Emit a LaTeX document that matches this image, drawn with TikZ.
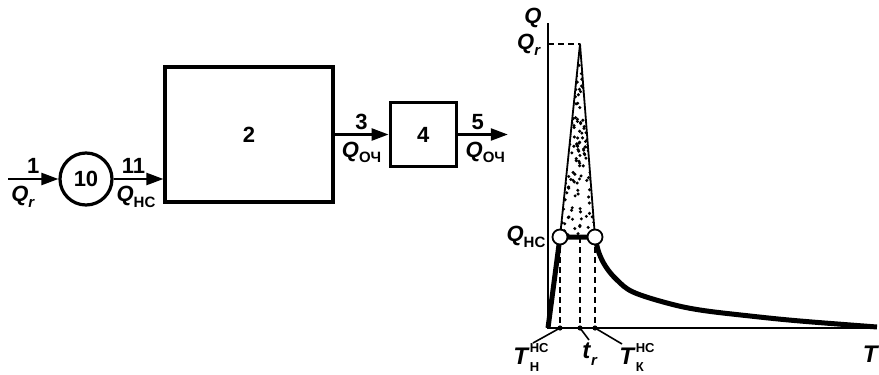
\documentclass[tikz,border=0pt]{standalone}
\usepackage{fontspec}
\setmainfont{Liberation Sans}
\usetikzlibrary{positioning,arrows.meta}
\newcommand{\lsub}[2]{#1\raisebox{-0.5ex}{\fontsize{7.5}{8}\selectfont #2}}
\newcommand{\tlab}[3]{\textit{#1}\rlap{\raisebox{-0.55ex}{\fontsize{6.5}{7}\selectfont #3}}\raisebox{0.95ex}{\fontsize{6.5}{7}\selectfont #2}}

\begin{document}
\begin{tikzpicture}[x=0.5pt,y=-0.5pt,font=\fontsize{11}{12}\selectfont\bfseries,
flow/.style={-{Triangle[length=8.5pt,width=6pt]},line width=1.2pt},
blk/.style={draw,line width=1.6pt,inner sep=0pt},
lbl/.style={inner sep=1pt},
axis/.style={line width=0.9pt},
guide/.style={line width=0.8pt,dash pattern=on 3pt off 2pt},
load/.style={line width=2.5pt,line join=round},
joint/.style={circle,draw,fill=white,line width=0.9pt,minimum size=7.5pt,inner sep=0pt},
tlbl/.style={inner sep=0pt,font=\fontsize{12}{14}\selectfont\bfseries}]
\useasboundingbox (0,0) rectangle (879,375);
% process chain
\coordinate (in1) at (8,179);
\node[blk,circle,minimum size=26pt] (c10) at (86,179) {10};
\node[blk,minimum width=84pt,minimum height=67.5pt] (box2) at (249,134.5) {2};
\node[blk,minimum width=33pt,minimum height=32pt,right=27pt of box2] (box4) {4};
\coordinate[right=25pt of box4] (out5);
\draw[flow] (in1) -- node[lbl,above=1pt]{1} node[lbl,below=2pt,pos=0.3]{\lsub{\textit{Q}}{\textit{r}}} (c10);
\draw[flow] (c10) -- node[lbl,above=1pt,pos=0.4]{11} node[lbl,below=2pt,pos=0.45]{\lsub{\textit{Q}}{НС}} (c10 -| box2.west);
\draw[flow] (box2.east |- box4) -- node[lbl,above=1pt]{3} node[lbl,below=2pt]{\lsub{\textit{Q}}{ОЧ}} (box4);
\draw[flow] (box4) -- node[lbl,above=1pt,pos=0.4]{5} node[lbl,below=2pt,pos=0.55]{\lsub{\textit{Q}}{ОЧ}} (out5);
% load graph
\coordinate (O) at (548,328);
\coordinate (ytop) at (548,23);
\coordinate (xend) at (877,328);
\coordinate (peak) at (580,44);
\coordinate (pL) at (560,237);
\coordinate (pR) at (595,237);
\coordinate (tr) at (580,237);
\draw[axis] (ytop) -- (O) -- (xend);
\node[lbl] (qax) at (533,18) {\textit{Q}};
\node[lbl] (qr) at (529,45) {\lsub{\textit{Q}}{\textit{r}}};
\node[lbl] (qnc) at (526,237) {\lsub{\textit{Q}}{НС}};
\node[tlbl] (tax) at (871,354) {\textit{T}};
\draw[guide] (ytop |- peak) -- (peak);
\begin{scope}
\clip (peak) -- (pL) -- (pR) -- cycle;
\pgfmathsetseed{11}
\foreach \k in {1,...,300}{\fill ({556+42*rnd},{44+196*rnd}) circle (0.85pt);}
\end{scope}
\draw[line width=0.9pt,line join=round] (pL) -- (peak) -- (pR);
\draw[guide] (pL) -- (pL |- O);
\draw[guide] (tr) -- (tr |- O);
\draw[guide] (pR) -- (pR |- O);
\draw[load] (O) -- (pL) -- (pR);
\draw[load] plot[smooth,tension=0.6] coordinates {(595,237) (599,253) (606,267) (617,280) (633,292) (667,303) (700,310) (750,316) (800,321) (877,327)};
\node[joint] (jL) at (pL) {};
\node[joint] (jR) at (pR) {};
\foreach \p in {pL,tr,pR}{\fill (\p |- O) circle (1.3pt);}
% leaders and time labels
\coordinate (endH) at (533,343);
\coordinate (endr) at (589,340);
\coordinate (endK) at (622,344);
\draw[line width=0.8pt] (pL |- O) -- (endH);
\draw[line width=0.8pt] (tr |- O) -- (endr);
\draw[line width=0.8pt] (pR |- O) -- (endK);
\node[tlbl] (tH) at (531,357) {\tlab{T}{НС}{Н}};
\node[tlbl] (trl) at (590,354) {\lsub{\textit{t}}{\textit{r}}};
\node[tlbl] (tK) at (637,357) {\tlab{T}{НС}{К}};
\end{tikzpicture}
\end{document}
